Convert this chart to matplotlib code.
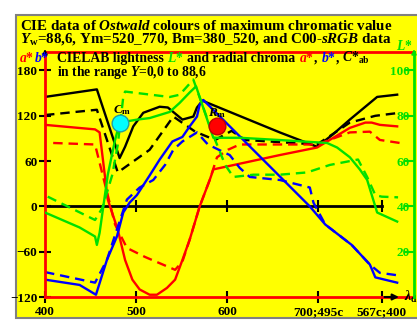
import matplotlib
matplotlib.use('Agg')
import matplotlib.pyplot as plt
from matplotlib.patches import Rectangle

plt.rcParams['font.family'] = 'Liberation Serif'
plt.rcParams['font.weight'] = 'bold'
plt.rcParams['mathtext.fontset'] = 'custom'
plt.rcParams['mathtext.rm'] = 'Liberation Serif:bold'
plt.rcParams['mathtext.it'] = 'Liberation Serif:italic:bold'
plt.rcParams['mathtext.bf'] = 'Liberation Serif:bold'

# Chroma C*ab (solid: Ostwald, dashed: C00-sRGB), x = dominant wavelength scale
cab_x = [400, 457, 482, 488, 497, 508, 526, 535, 551, 563, 567, 573, 658, 699, 716, 735, 752, 765, 787]
cab_y = [145, 155, 64, 79, 106, 124, 132, 131, 115, 119, 131, 140, 98, 79, 95, 115, 132, 145, 148]
cab2_x = [400, 457, 480, 515, 541, 565, 587, 605, 620, 699, 719, 735, 763, 790]
cab2_y = [121, 128, 45, 75, 119, 99, 88, 100, 88, 82, 98, 111, 120, 124]

# a*
a_x = [400, 455, 460, 469, 480, 488, 496, 504, 515, 523, 534, 543, 551, 559, 570, 581, 585, 658, 699, 735, 752, 759, 768, 787]
a_y = [108, 102, 98, 9, -31, -71, -97, -110, -117, -117, -108, -97, -71, -44, 0, 35, 49, 68, 78, 104, 111, 111, 108, 106]
a2_x = [409, 455, 466, 477, 490, 510, 543, 551, 559, 570, 581, 589, 601, 614, 699, 735, 757, 768, 790]
a2_y = [84, 82, 29, -24, -55, -67, -84, -73, -44, 0, 35, 65, 75, 82, 82, 98, 99, 88, 84]

# b*
b_x = [400, 438, 456, 468, 479, 486, 493, 501, 515, 526, 540, 551, 559, 567, 570, 574, 691, 708, 737, 757, 763, 787]
b_y = [-97, -104, -117, -71, -40, -8, 5, 15, 41, 62, 86, 92, 106, 119, 135, 141, 0, -24, -51, -77, -94, -101]
b2_x = [400, 455, 468, 480, 490, 504, 519, 532, 541, 551, 567, 579, 603, 614, 625, 658, 691, 695, 708, 737, 757, 768, 792]
b2_y = [-87, -101, -71, -27, 9, 25, 35, 55, 75, 86, 98, 82, 68, 51, 39, 35, 25, 5, -24, -51, -77, -88, -92]

# L*
L_x = [400, 438, 455, 457, 460, 469, 477, 482, 501, 515, 537, 548, 559, 566, 585, 614, 658, 710, 721, 735, 746, 754, 765, 787]
L_y = [37.3, 30.7, 26.7, 23.0, 28.3, 54.0, 69.3, 77.0, 78.3, 79.0, 81.7, 85.7, 90.3, 93.0, 70.3, 70.3, 69.3, 68.0, 66.0, 61.7, 56.3, 51.7, 37.3, 33.3]
L2_x = [403, 455, 463, 474, 480, 486, 488, 537, 548, 563, 576, 587, 598, 607, 629, 658, 688, 713, 744, 754, 763, 770, 788]
L2_y = [44.3, 34.0, 39.3, 54.0, 67.3, 88.3, 90.7, 88.3, 89.3, 96.0, 81.3, 69.3, 58.3, 53.0, 54.0, 54.0, 55.0, 58.3, 60.7, 53.0, 45.0, 44.3, 44.0]

# Cm and Rm points
cm_x, cm_y = 482, 111
rm_x, rm_y = 589, 106

x_ticks = [400, 500, 600, 700, 770]
x_labels = ['400', '500', '600', '700;495c', '567c;400']
y_ticks = [-120, -60, 0, 60, 120, 180]
y_labels = ['\u2212120', '\u221260', '0', '60', '120', '180']
L_ticks = [20, 40, 60, 80, 100]

W, H = 417, 323
green = '#00e000'
lw = 1.7
dash = (4, 2.5)

fig = plt.figure(figsize=(W / 100, H / 100), dpi=100, facecolor='white')
fig.patches.append(Rectangle((16 / W, 5 / H), 1, 303 / H, transform=fig.transFigure,
                             facecolor='#ffff00', edgecolor='#808080', lw=1.5, zorder=-1))

ax = fig.add_axes([45 / W, 26 / H, 369 / W, 245 / H])
ax.set_facecolor('none')

ax.plot([400, 770], [0, 0], color='black', lw=2)
ax.vlines(x_ticks[1:], -8, 8, color='black', lw=1.5)

ax.plot(cab_x, cab_y, color='black', lw=lw)
ax.plot(cab2_x, cab2_y, color='black', lw=lw, dashes=dash)
ax.plot(a_x, a_y, color='red', lw=lw)
ax.plot(a2_x, a2_y, color='red', lw=lw, dashes=dash)
ax.plot(b_x, b_y, color='blue', lw=lw)
ax.plot(b2_x, b2_y, color='blue', lw=lw, dashes=dash)

ax.set_xlim(400, 805.5)
ax.set_ylim(-120, 204.5)
ax.set_xticks(x_ticks, x_labels)
ax.set_yticks(y_ticks, y_labels)
ax.tick_params(axis='both', direction='inout', length=9, width=1.5, colors='black', labelsize=9.5)
ax.tick_params(axis='y', pad=1)
ax.tick_params(axis='x', pad=2)
for s in ['left', 'top', 'bottom']:
    ax.spines[s].set_color('red')
    ax.spines[s].set_linewidth(2)
ax.spines['right'].set_visible(False)

# lightness on the right axis
ax2 = ax.twinx()
ax2.plot(L_x, L_y, color=green, lw=lw)
ax2.plot(L2_x, L2_y, color=green, lw=lw, dashes=dash)
ax2.plot(cm_x, cm_y, 'o', ms=12, mfc='cyan', mec='#20a0a0', mew=1, transform=ax.transData)
ax2.plot(rm_x, rm_y, 'o', ms=12, mfc='red', mec='#c00000', mew=1, transform=ax.transData)
ax2.set_ylim(0, (204.5 + 120) / 3)
ax2.set_yticks(L_ticks)
ax2.tick_params(axis='y', direction='in', length=7, width=1.5, colors=green, labelsize=9.5, pad=-3)
for lab in ax2.get_yticklabels():
    lab.set_ha('right')
for s in ['left', 'top', 'bottom']:
    ax2.spines[s].set_visible(False)
ax2.spines['right'].set_color(green)
ax2.spines['right'].set_linewidth(2)

ax.text(474.5, 124, r'$C_{\rm m}$', fontsize=9.5)
ax.text(579, 120, r'$R_{\rm m}$', fontsize=9.5)

# axis arrows
ax.annotate('', xy=(400, 212), xytext=(400, 198), annotation_clip=False,
            arrowprops=dict(arrowstyle='-|>', color='black', lw=1.2, mutation_scale=7))
ax.annotate('', xy=(805.5, 212), xytext=(805.5, 198), annotation_clip=False,
            arrowprops=dict(arrowstyle='-|>', color=green, lw=1.2, mutation_scale=7))
ax.annotate('', xy=(792, -120), xytext=(770, -120), annotation_clip=False,
            arrowprops=dict(arrowstyle='-|>', color='black', lw=1.5, mutation_scale=9))
ax.text(795, -120, r'$\lambda_{\rm d}$', fontsize=10, va='center', clip_on=False)

r = fig.canvas.get_renderer()


def width(s, size):
    t = fig.text(0, 0, s, fontsize=size)
    w = t.get_window_extent(r).width
    t.remove()
    return w


def put_text(x, y, parts, size):
    # x, y in pixels from the top left; parts = (text, colour)
    sp = width('a a', size) - width('aa', size)
    for s, c in parts:
        x += sp * (len(s) - len(s.lstrip(' ')))
        t = fig.text(x / W, 1 - y / H, s.strip(' '), color=c, fontsize=size, va='baseline')
        x = t.get_window_extent(r).x1 + sp * (len(s) - len(s.rstrip(' ')))


put_text(20, 30, [(r'CIE data of $Ostwald$ colours of maximum chromatic value', 'black')], 10.8)
put_text(20, 43, [(r'$Y_{\rm w}$=88,6, Ym=520_770, Bm=380_520, and C00-$sRGB$ data', 'black')], 10.8)
put_text(57, 62, [('CIELAB lightness ', 'black'), (r'$L$*', green),
                  (' and radial chroma ', 'black'), (r'$a$*', 'red'), (', ', 'black'),
                  (r'$b$*', 'blue'), (', ', 'black'), (r'$C$*$_{\rm ab}$', 'black')], 9.8)
put_text(57, 76, [(r'in the range $Y$=0,0 to 88,6', 'black')], 9.8)
put_text(19, 62, [(r'$a$*', 'red'), (r'$b$*', 'blue')], 9.8)
put_text(396, 50, [(r'$L$*', green)], 9.8)

fig.savefig('out.png', dpi=100)
